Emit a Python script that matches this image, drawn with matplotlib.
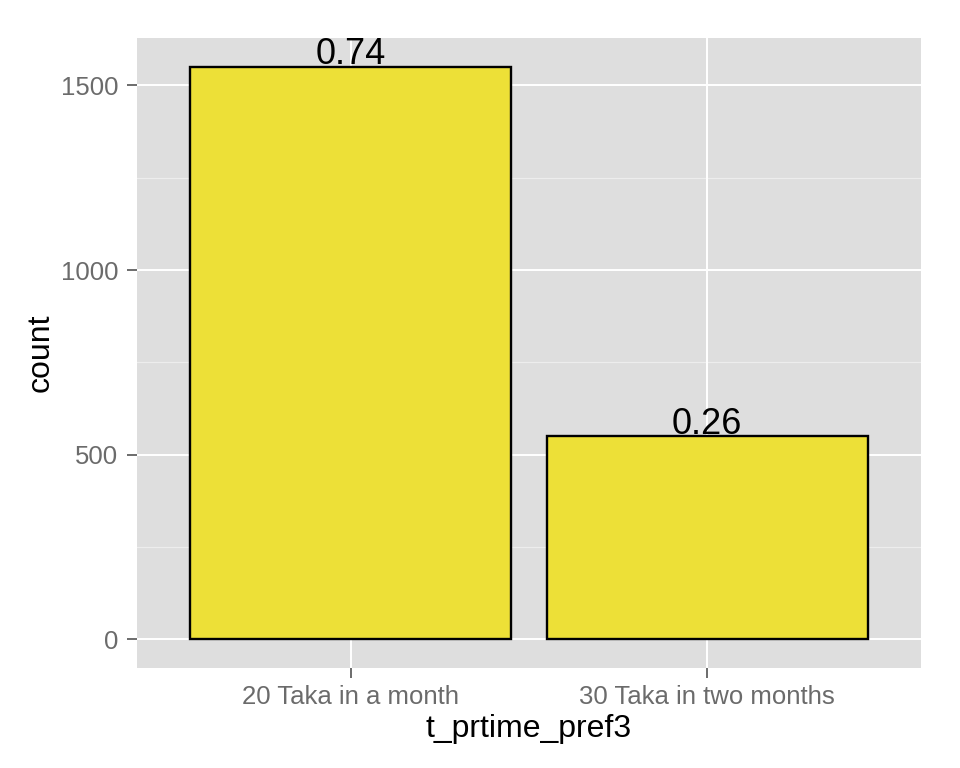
import matplotlib
matplotlib.use("Agg")
import matplotlib.pyplot as plt
import numpy as np

# data
categories = ["20 Taka in a month", "30 Taka in two months"]
counts = [1551, 550]
shares = [0.74, 0.26]
y_major = [0, 500, 1000, 1500]
y_minor = [250, 750, 1250]

plt.rcParams['font.family'] = ['Liberation Sans', 'DejaVu Sans']

fig = plt.figure(figsize=(9.6, 7.68), dpi=100)
ax = fig.add_axes([0.1427, 0.1302, 0.9594 - 0.1427, 0.9505 - 0.1302])

bg = '#DEDEDE'
ax.set_facecolor(bg)
for s in ax.spines.values():
    s.set_visible(False)

x = np.arange(1, len(categories) + 1)
ymax = max(counts)
ax.set_xlim(0.4, len(categories) + 0.6)
ax.set_ylim(-0.05 * ymax, 1.05 * ymax)

# grid (ggplot style: minor lighter, major white)
for v in y_minor:
    ax.axhline(v, color='#EDEDED', lw=0.9, zorder=0.5)
for v in y_major:
    ax.axhline(v, color='white', lw=1.4, zorder=0.6)
for v in x:
    ax.axvline(v, color='white', lw=1.4, zorder=0.6)

ax.bar(x, counts, width=0.9, color='#EDE037', edgecolor='black', linewidth=1.7, zorder=2)

for xi, c, s in zip(x, counts, shares):
    ax.text(xi, c + 6, f"{s:.2f}", ha='center', va='baseline', fontsize=26, color='black', zorder=3)

ax.set_xticks(x)
ax.set_xticklabels(categories)
ax.set_yticks(y_major)
ax.set_yticklabels([str(v) for v in y_major])
ax.tick_params(axis='both', colors='#6B6B6B', labelsize=18.5, length=7.5, width=1.4, direction='out')
ax.tick_params(axis='y', pad=6)
ax.tick_params(axis='x', pad=5)

ax.set_xlabel("t_prtime_pref3", fontsize=23, color='black', labelpad=3)
ax.set_ylabel("count", fontsize=23, color='black', labelpad=4)

fig.savefig("out.png", dpi=100)
